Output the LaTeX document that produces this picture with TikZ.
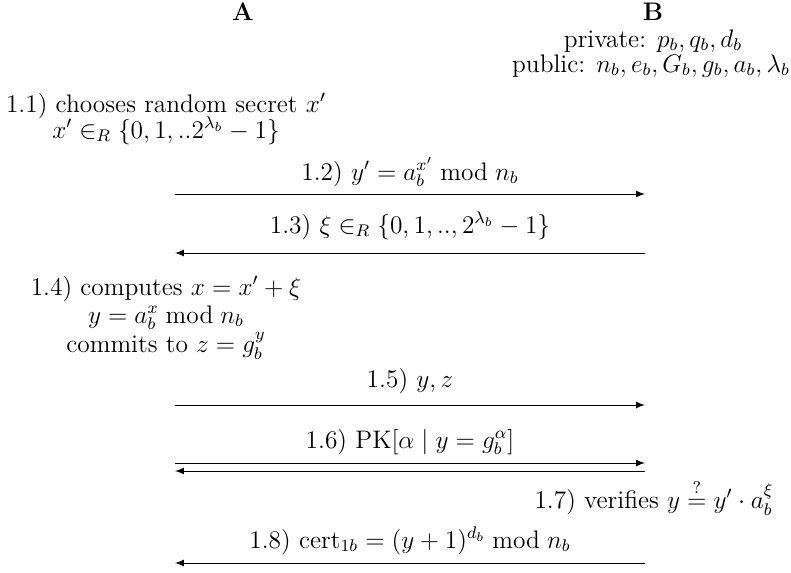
\documentclass[tikz,border=0pt,12pt]{standalone}
\usepackage{amsmath}
\usepackage{amssymb}
\usetikzlibrary{arrows}

\begin{document}
\begin{tikzpicture}[x=0.473pt,y=0.473pt,yscale=-1,xscale=1,
  msg/.style={-latex,line width=0.45pt},
  step label/.style={anchor=base,inner sep=0.75pt}]
\useasboundingbox (0,0) rectangle (791,572);

% Parties
\node [step label] (A) at (243,20) {\textbf{A}};
\node [step label] (B) at (653,20) {\textbf{B}};
% Text Node
\node [step label] (priv) at (653,47) {private: $p_b, q_b, d_b$};
\node [step label] (pub) at (651,72) {public: $n_b, e_b, G_b, g_b, a_b, \lambda_b$};

% Text Node
\node [step label] (s11) at (166,112) {1.1) chooses random secret $x'$};
\node [step label] (s11b) at (166,138) {$x' \in_R \{0,1,..2^{\lambda_b}-1\}$};

% Arrow ends
\coordinate (a12) at (175,194); \coordinate (b12) at (645,194);
\coordinate (a13) at (175,253); \coordinate (b13) at (645,253);
\coordinate (a15) at (175,405); \coordinate (b15) at (645,405);
\coordinate (a16) at (175,463); \coordinate (b16) at (645,463);
\coordinate (a16r) at (175,471); \coordinate (b16r) at (645,471);
\coordinate (a18) at (175,563); \coordinate (b18) at (645,563);

% Straight Lines
\node [step label] (s12) at (410,180) {1.2) $y' = a_b^{x'} \bmod n_b$};
\draw [msg] (a12) -- (b12);
\node [step label] (s13) at (410,233) {1.3) $\xi \in_R \{0,1,..,2^{\lambda_b}-1\}$};
\draw [msg] (b13) -- (a13);

% Text Node
\node [step label] (s14) at (166,295) {1.4) computes $x = x' + \xi$};
\node [step label] (s14b) at (166,323) {$y = a_b^{x} \bmod n_b$};
\node [step label] (s14c) at (166,352) {commits to $z = g_b^{y}$};

% Straight Lines
\node [step label] (s15) at (410,387) {1.5) $y, z$};
\draw [msg] (a15) -- (b15);
\node [step label] (s16) at (410,448) {1.6) $\mathrm{PK}[\alpha \mid y = g_b^{\alpha}]$};
\draw [msg] (a16) -- (b16);
\draw [msg] (b16r) -- (a16r);

% Text Node
\node [step label] (s17) at (654,508) {1.7) verifies $y \stackrel{?}{=} y' \cdot a_b^{\xi}$};

% Straight Lines
\node [step label] (s18) at (410,548) {1.8) $\mathrm{cert}_{1b} = (y+1)^{d_b} \bmod n_b$};
\draw [msg] (b18) -- (a18);
\end{tikzpicture}
\end{document}
